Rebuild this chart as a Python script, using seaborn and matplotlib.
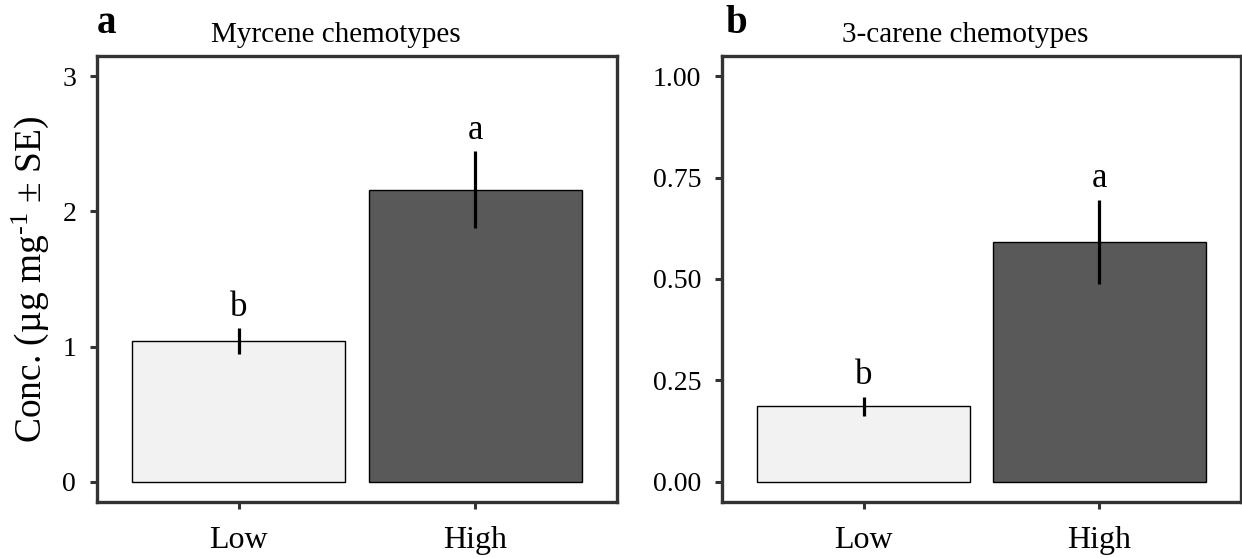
import matplotlib
matplotlib.use("Agg")
import matplotlib.pyplot as plt
import seaborn as sns
import pandas as pd

# ---- data ----
groups = ["Low", "High"]
myrcene_mean = [1.04, 2.16]
myrcene_se = [0.095, 0.285]
myrcene_letters = ["b", "a"]
carene_mean = [0.186, 0.592]
carene_se = [0.024, 0.104]
carene_letters = ["b", "a"]
bar_colors = ["#f2f2f2", "#595959"]
panel_titles = ["Myrcene chemotypes", "3-carene chemotypes"]
panel_tags = ["a", "b"]
myrcene_ticks = [0, 1, 2, 3]
myrcene_ticklabels = ["0", "1", "2", "3"]
carene_ticks = [0.0, 0.25, 0.5, 0.75, 1.0]
carene_ticklabels = ["0.00", "0.25", "0.50", "0.75", "1.00"]

sns.set_theme(style="white")
plt.rcParams["font.family"] = ["Liberation Serif", "DejaVu Serif"]
plt.rcParams["mathtext.fontset"] = "custom"
plt.rcParams["mathtext.rm"] = "Liberation Serif"
plt.rcParams["mathtext.it"] = "Liberation Serif:italic"
plt.rcParams["mathtext.bf"] = "Liberation Serif:bold"

W, H = 1242, 558
fig = plt.figure(figsize=(W / 100, H / 100), dpi=100)
fig.patch.set_facecolor("white")

frame_col = "#333333"
positions = [(97, 56, 617, 502), (722, 56, 1241, 502)]
panels = [
    (myrcene_mean, myrcene_se, myrcene_letters, myrcene_ticks, myrcene_ticklabels, (-0.15, 3.15)),
    (carene_mean, carene_se, carene_letters, carene_ticks, carene_ticklabels, (-0.05, 1.05)),
]
title_centers = [336, 965]
tag_left = [97, 725]

for i, ((l, t, r, b), (means, ses, letters, ticks, ticklabels, ylim)) in enumerate(zip(positions, panels)):
    ax = fig.add_axes([l / W, 1 - b / H, (r - l) / W, (b - t) / H])
    df = pd.DataFrame({"group": groups, "value": means})
    sns.barplot(data=df, x="group", y="value", hue="group", palette=bar_colors,
                order=groups, hue_order=groups, legend=False, width=0.9,
                edgecolor="black", linewidth=1.0, errorbar=None, ax=ax)
    xs = list(range(len(groups)))
    ax.errorbar(xs, means, yerr=ses, fmt="none", ecolor="black", elinewidth=2.3, capsize=0, zorder=5)
    for x, m, s, letter in zip(xs, means, ses, letters):
        ax.annotate(letter, (x, m + s), xytext=(0, 9), textcoords="offset points",
                    ha="center", va="baseline", fontsize=25, color="black")
    ax.set_xlim(-0.6, 1.6)
    ax.set_ylim(*ylim)
    ax.set_yticks(ticks)
    ax.set_yticklabels(ticklabels)
    ax.set_xlabel("")
    ax.set_ylabel("")
    for sp in ax.spines.values():
        sp.set_visible(True)
        sp.set_color(frame_col)
        sp.set_linewidth(2.4)
    ax.tick_params(axis="both", which="major", direction="out", length=5, width=2.2,
                   color=frame_col, left=True, bottom=True)
    ax.tick_params(axis="x", labelsize=23, pad=12, labelcolor="black")
    ax.tick_params(axis="y", labelsize=20, pad=10, labelcolor="black")
    ax.grid(False)
    fig.text(title_centers[i] / W, 1 - 42 / H, panel_titles[i], ha="center", va="baseline",
             fontsize=21, color="black")
    fig.text(tag_left[i] / W, 1 - 33 / H, panel_tags[i], ha="left", va="baseline",
             fontsize=28, fontweight="bold", color="black")
    if i == 0:
        ax.set_ylabel("Conc. (µg mg$^{\u20101}$ ± SE)", fontsize=27, color="black", labelpad=8)

fig.savefig("out.png", dpi=100, facecolor="white")
